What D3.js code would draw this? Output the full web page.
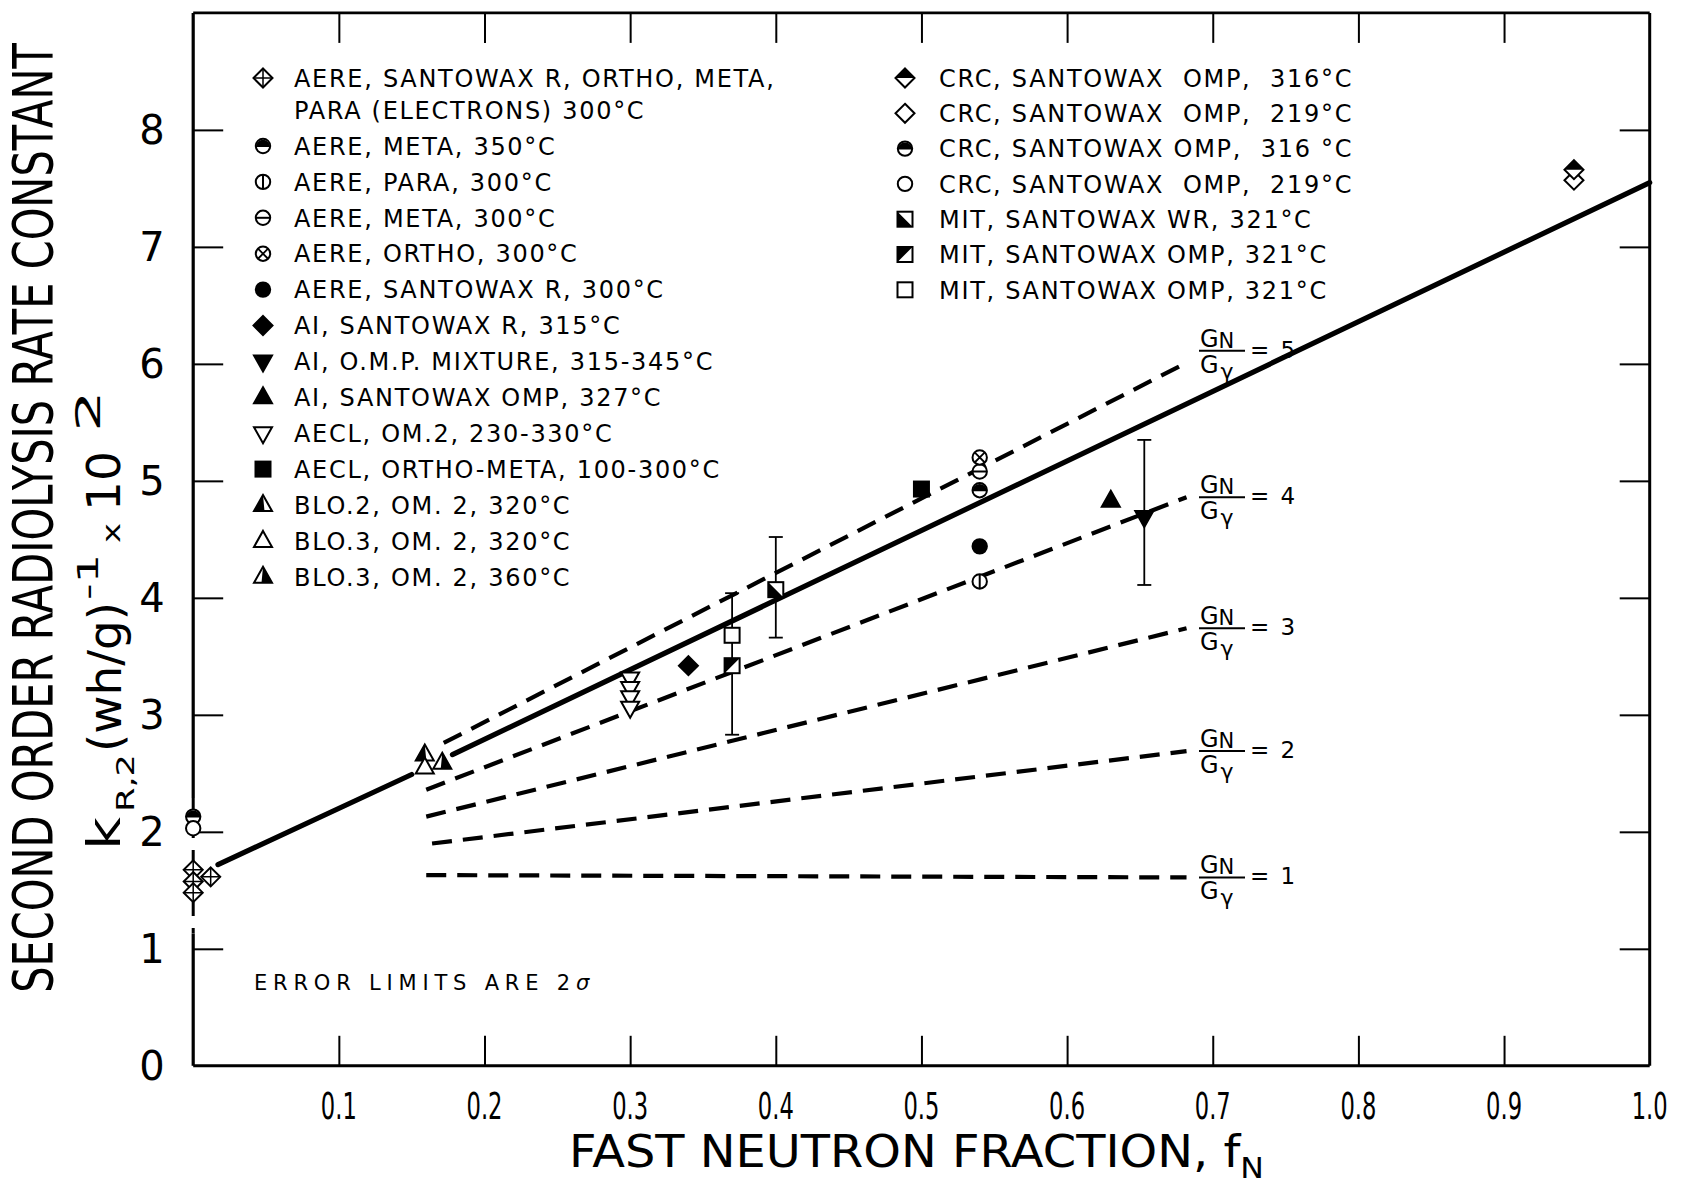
<!DOCTYPE html>
<html><head><meta charset="utf-8">
<script src="https://cdn.jsdelivr.net/npm/d3@7"></script>
<style>body{margin:0;background:#fff} svg{display:block} text{white-space:pre}</style>
</head><body><svg id="chart" width="1683" height="1201"></svg>
<script>
// ---------------- DATA ----------------
const xTicks = [0.1,0.2,0.3,0.4,0.5,0.6,0.7,0.8,0.9,1.0];
const xTickLabels = ["0.1","0.2","0.3","0.4","0.5","0.6","0.7","0.8","0.9","1.0"];
const yTicks = [0,1,2,3,4,5,6,7,8];
const yTickLabels = ["0","1","2","3","4","5","6","7","8"];

const legendLeftLabels = [
  ["AERE, SANTOWAX R, ORTHO, META,","PARA (ELECTRONS) 300°C"],
  ["AERE, META, 350°C"],["AERE, PARA, 300°C"],["AERE, META, 300°C"],["AERE, ORTHO, 300°C"],
  ["AERE, SANTOWAX R, 300°C"],["AI, SANTOWAX R, 315°C"],["AI, O.M.P. MIXTURE, 315-345°C"],
  ["AI, SANTOWAX OMP, 327°C"],["AECL, OM.2, 230-330°C"],["AECL, ORTHO-META, 100-300°C"],
  ["BLO.2, OM. 2, 320°C"],["BLO.3, OM. 2, 320°C"],["BLO.3, OM. 2, 360°C"]];
const legendLeftMarkers = ["diamondCross","circleTopHalf","circleVLine","circleHLine","circleX","circleFilled",
  "diamondFilled","triDownFilled","triUpFilled","triDownOpen","squareFilled","triUpLeftHalf","triUpOpen","triUpRightHalf"];
const legendRightLabels = ["CRC, SANTOWAX  OMP,  316°C","CRC, SANTOWAX  OMP,  219°C","CRC, SANTOWAX OMP,  316 °C",
  "CRC, SANTOWAX  OMP,  219°C","MIT, SANTOWAX WR, 321°C","MIT, SANTOWAX OMP, 321°C","MIT, SANTOWAX OMP, 321°C"];
const legendRightMarkers = ["diamondTopHalf","diamondOpen","circleTopHalf","circleOpen","squareDiagA","squareDiagB","squareOpen"];

// data points [fN, k]
const aereElectrons = [[0,1.675],[0,1.575],[0,1.48],[0.012,1.615]];
const aereMeta350 = [[0,2.13]];
const aerePara300 = [[0.54,4.14]];
const aereMeta300 = [[0.54,5.08]];
const aereOrtho300 = [[0.54,5.20]];
const aereSantowaxR = [[0.54,4.44]];
const aiSantowaxR = [[0.34,3.42]];
const aiOMPMixture = [[0.653,4.69]];
const aiSantowaxOMP = [[0.63,4.83]];
const aeclOM2 = [[0.30,3.31],[0.30,3.23],[0.30,3.15],[0.30,3.06]];
const aeclOrthoMeta = [[0.50,4.93]];
const blo2_320 = [[0.159,2.66]];
const blo3_320 = [[0.159,2.55]];
const blo3_360 = [[0.171,2.59]];
const crc316Diamond = [[0.948,7.66]];
const crc219Diamond = [[0.948,7.57]];
const crc316Circle = [[0.54,4.92]];
const crc219Circle = [[0,2.03]];
const mitWR = [[0.40,4.07]];
const mitOMPHalf = [[0.37,3.42]];
const mitOMPOpen = [[0.37,3.68]];

// error bars (2 sigma)
const errX = [0.37, 0.40, 0.653];
const errLow = [2.83, 3.66, 4.11];
const errHigh = [4.04, 4.52, 5.35];

// solid fitted line (two pieces, broken at the BLO points)
const fitLineA = [[0.017,1.72],[0.150,2.49]];
const fitLineB = [[0.178,2.66],[1.0,7.55]];

// dashed G_N/G_gamma lines
const gammaRatios = [5,4,3,2,1];
const dashStart = [[0.172,2.76],[0.160,2.36],[0.160,2.13],[0.164,1.90],[0.160,1.63]];
const dashEnd = [[0.682,6.01],[0.682,4.86],[0.682,3.74],[0.682,2.69],[0.682,1.61]];

// ---------------- CHART ----------------
const svg = d3.select("#chart");
const x = d3.scaleLinear().domain([0,1]).range([193.2,1649.7]);
const y = d3.scaleLinear().domain([0,9]).range([1065.8,12.9]);
const FONT = "'DejaVu Sans', sans-serif";

// ticks via d3 axes (inward)
const T = 30;
const axes = [
  [d3.axisBottom(x).tickValues(xTicks.slice(0,9)), `translate(0,${y(0)})`],
  [d3.axisTop(x).tickValues(xTicks.slice(0,9)), `translate(0,${y(9)})`],
  [d3.axisLeft(y).tickValues(yTicks.slice(1)), `translate(${x(0)},0)`],
  [d3.axisRight(y).tickValues(yTicks.slice(1)), `translate(${x(1)},0)`]
];
axes.forEach(([ax,tr]) => {
  const g = svg.append("g").attr("transform",tr).call(ax.tickSize(-T).tickFormat(""));
  g.select(".domain").remove();
  g.selectAll(".tick line").attr("stroke","#000").attr("stroke-width",2);
});

// frame
const frame = svg.append("g").attr("stroke","#000").attr("fill","none");
frame.append("line").attr("x1",x(0)).attr("x2",x(1)).attr("y1",y(9)).attr("y2",y(9)).attr("stroke-width",2.6);
frame.append("line").attr("x1",x(0)).attr("x2",x(1)).attr("y1",y(0)).attr("y2",y(0)).attr("stroke-width",3);
frame.append("line").attr("x1",x(1)).attr("x2",x(1)).attr("y1",y(0)).attr("y2",y(9)).attr("stroke-width",3);
const brk = [1.13, 2.29];
frame.append("line").attr("x1",x(0)).attr("x2",x(0)).attr("y1",y(9)).attr("y2",y(brk[1])).attr("stroke-width",3.2);
frame.append("line").attr("x1",x(0)).attr("x2",x(0)).attr("y1",y(brk[0])).attr("y2",y(0)).attr("stroke-width",3.2);
frame.append("line").attr("x1",x(0)).attr("x2",x(0)).attr("y1",y(brk[1])).attr("y2",y(brk[0]))
  .attr("stroke-width",3).attr("stroke-dasharray","14,12");

function scaleTo(sel, target){ const w = sel.node().getComputedTextLength(); return target/w; }

// tick labels (condensed via horizontal scaling)
svg.append("g").selectAll("text").data(xTicks).join("text")
  .attr("text-anchor","middle").attr("font-family",FONT).attr("font-size",38)
  .text((d,i)=>xTickLabels[i])
  .each(function(d){
    const el = d3.select(this);
    el.attr("transform",`translate(${x(d)},1119) scale(${scaleTo(el,36)},1)`);
  });
svg.append("g").selectAll("text").data(yTicks).join("text")
  .attr("x",152).attr("y",d=>y(d)+14.5).attr("text-anchor","middle")
  .attr("font-family",FONT).attr("font-size",40)
  .text((d,i)=>yTickLabels[i]);

// axis titles
const yt = svg.append("text").attr("font-family",FONT).attr("font-size",56).attr("text-anchor","middle")
  .text("SECOND ORDER RADIOLYSIS RATE CONSTANT");
yt.attr("transform",`translate(52,518) rotate(-90) scale(${scaleTo(yt,950)},1)`);

// second y-title line, laid out piece by piece along the rotated baseline
const ytPieces = [
  {t:"k",      fs:46, base:120, start:850, len:33},
  {t:"R,2",    fs:25, base:134, start:812, len:58},
  {t:"(wh/g)", fs:46, base:121, start:752, len:150},
  {t:"-1",     fs:28, base:98,  start:600, len:46},
  {t:"x",      fs:24, base:120, start:543, len:20},
  {t:"10",     fs:46, base:120, start:511, len:60},
  {t:"2",      fs:34, base:100, start:432, len:42}
];
ytPieces.forEach(p=>{
  const el = svg.append("text").attr("font-family",FONT).attr("font-size",p.fs).text(p.t);
  el.attr("transform",`translate(${p.base},${p.start}) rotate(-90) scale(${scaleTo(el,p.len)},1)`);
});

const xt = svg.append("text").attr("font-family",FONT).attr("font-size",44).attr("text-anchor","start");
xt.append("tspan").text("FAST NEUTRON FRACTION, f");
xt.append("tspan").attr("font-size",29).attr("dy",11).text("N");
xt.attr("transform",`translate(569,1167) scale(${scaleTo(xt,695)},1)`);

// lines
const line = d3.line().x(d=>x(d[0])).y(d=>y(d[1]));
gammaRatios.forEach((k,i)=>{
  svg.append("path").attr("d",line([dashStart[i],dashEnd[i]])).attr("fill","none")
    .attr("stroke","#000").attr("stroke-width",4.2).attr("stroke-dasharray","20,11");
});
[fitLineA, fitLineB].forEach(seg=>{
  svg.append("path").attr("d",line(seg)).attr("fill","none").attr("stroke","#000")
    .attr("stroke-width",5.2).attr("stroke-linecap","round");
});

// error bars
const eb = svg.append("g").attr("stroke","#000").attr("stroke-width",1.8);
errX.forEach((ex,i)=>{
  eb.append("line").attr("x1",x(ex)).attr("x2",x(ex)).attr("y1",y(errLow[i])).attr("y2",y(errHigh[i]));
  [errLow[i],errHigh[i]].forEach(v=>eb.append("line").attr("x1",x(ex)-7).attr("x2",x(ex)+7).attr("y1",y(v)).attr("y2",y(v)));
});

// markers
function drawMarker(parent, type, cx, cy){
  const s = parent.append("g").attr("transform",`translate(${cx},${cy})`);
  const R = 7.2, D = 9.5, Q = 7.5, sw = 2;
  const st = sel => sel.attr("stroke","#000").attr("stroke-width",sw);
  const circ = f => st(s.append("circle").attr("r",R).attr("fill",f));
  const dia = f => st(s.append("path").attr("d",`M0,${-D}L${D},0L0,${D}L${-D},0Z`).attr("fill",f));
  const triU = `M0,-10L9,6L-9,6Z`, triD = `M0,10L9,-6L-9,-6Z`;
  const sq = f => st(s.append("rect").attr("x",-Q).attr("y",-Q).attr("width",2*Q).attr("height",2*Q).attr("fill",f));
  switch(type){
    case "diamondCross": dia("#fff"); s.append("path").attr("d",`M0,${-D}V${D}M${-D},0H${D}`).attr("stroke","#000").attr("stroke-width",1.5); break;
    case "circleTopHalf": circ("#fff"); s.append("path").attr("d",`M${-R},1A${R},${R} 0 0 1 ${R},1Z`).attr("fill","#000"); break;
    case "circleVLine": circ("#fff"); s.append("line").attr("y1",-R).attr("y2",R).attr("stroke","#000").attr("stroke-width",2); break;
    case "circleHLine": circ("#fff"); s.append("line").attr("x1",-R).attr("x2",R).attr("stroke","#000").attr("stroke-width",2); break;
    case "circleX": circ("#fff"); s.append("path").attr("d",`M-4.8,-4.8L4.8,4.8M4.8,-4.8L-4.8,4.8`).attr("stroke","#000").attr("stroke-width",1.8); break;
    case "circleFilled": circ("#000"); break;
    case "circleOpen": circ("#fff"); break;
    case "diamondFilled": dia("#000"); break;
    case "diamondOpen": dia("#fff"); break;
    case "diamondTopHalf": dia("#fff"); s.append("path").attr("d",`M0,${-D}L${D},0L${-D},0Z`).attr("fill","#000"); break;
    case "triDownFilled": st(s.append("path").attr("d",triD).attr("fill","#000")); break;
    case "triDownOpen": st(s.append("path").attr("d",triD).attr("fill","#fff")); break;
    case "triUpFilled": st(s.append("path").attr("d",triU).attr("fill","#000")); break;
    case "triUpOpen": st(s.append("path").attr("d",triU).attr("fill","#fff")); break;
    case "triUpLeftHalf": st(s.append("path").attr("d",triU).attr("fill","#fff")); s.append("path").attr("d","M0,-10L-9,6L1.5,6Z").attr("fill","#000"); break;
    case "triUpRightHalf": st(s.append("path").attr("d",triU).attr("fill","#fff")); s.append("path").attr("d","M0,-10L9,6L-1.5,6Z").attr("fill","#000"); break;
    case "squareFilled": sq("#000"); break;
    case "squareOpen": sq("#fff"); break;
    case "squareDiagA": sq("#fff"); s.append("path").attr("d",`M${-Q},${-Q}L${-Q},${Q}L${Q},${Q}Z`).attr("fill","#000"); break;
    case "squareDiagB": sq("#fff"); s.append("path").attr("d",`M${-Q},${-Q}L${Q},${-Q}L${-Q},${Q}Z`).attr("fill","#000"); break;
  }
}

const seriesList = [
  [aereElectrons,"diamondCross"],[aereMeta350,"circleTopHalf"],[crc219Circle,"circleOpen"],
  [aerePara300,"circleVLine"],[aereMeta300,"circleHLine"],[aereOrtho300,"circleX"],[aereSantowaxR,"circleFilled"],
  [crc316Circle,"circleTopHalf"],[aiSantowaxR,"diamondFilled"],[aiOMPMixture,"triDownFilled"],[aiSantowaxOMP,"triUpFilled"],
  [aeclOM2,"triDownOpen"],[aeclOrthoMeta,"squareFilled"],[blo2_320,"triUpLeftHalf"],[blo3_320,"triUpOpen"],
  [blo3_360,"triUpRightHalf"],[crc219Diamond,"diamondOpen"],[crc316Diamond,"diamondTopHalf"],
  [mitOMPOpen,"squareOpen"],[mitOMPHalf,"squareDiagB"],[mitWR,"squareDiagA"]
];
const pts = svg.append("g");
seriesList.forEach(([arr,type])=>arr.forEach(p=>drawMarker(pts,type,x(p[0]),y(p[1]))));

// legend
const leg = svg.append("g").attr("font-family",FONT).attr("font-size",24).attr("letter-spacing",1.7);
legendLeftLabels.forEach((lines,i)=>{
  const cy = i===0 ? 78 : 146 + (i-1)*35.9;
  drawMarker(leg, legendLeftMarkers[i], 263, cy);
  lines.forEach((t,j)=>leg.append("text").attr("x",294).attr("y",cy+8.7+j*32).text(t));
});
legendRightLabels.forEach((t,i)=>{
  const cy = 78 + i*35.3;
  drawMarker(leg, legendRightMarkers[i], 905, cy);
  leg.append("text").attr("x",939).attr("y",cy+8.7).text(t);
});

// error note
const en = svg.append("text").attr("x",254).attr("y",990).attr("font-family",FONT).attr("font-size",21).attr("letter-spacing",5.8);
en.append("tspan").text("ERROR LIMITS ARE 2");
en.append("tspan").attr("font-style","italic").text("σ");

// G_N / G_gamma labels
gammaRatios.forEach((k,i)=>{
  const by = y(dashEnd[i][1]) + (k===5 ? -12 : 0);
  const g = svg.append("g").attr("font-family",FONT);
  g.append("text").attr("x",1200).attr("y",by-4).attr("font-size",24).text("G")
    .append("tspan").attr("font-size",21).attr("dy",1).text("N");
  g.append("line").attr("x1",1199).attr("x2",1245).attr("y1",by).attr("y2",by).attr("stroke","#000").attr("stroke-width",2);
  g.append("text").attr("x",1200).attr("y",by+22).attr("font-size",24).text("G")
    .append("tspan").attr("font-size",22).attr("dy",6).attr("dx",2).text("γ");
  g.append("text").attr("x",1250).attr("y",by+7).attr("font-size",23).attr("letter-spacing",2).text("= " + k);
});
</script></body></html>
